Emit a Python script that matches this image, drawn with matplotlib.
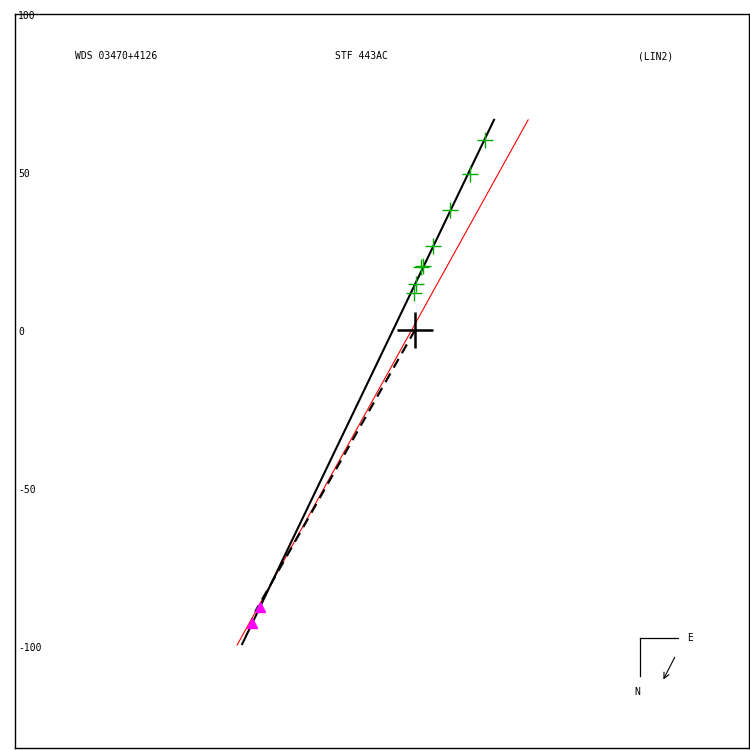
import numpy as np
import matplotlib
matplotlib.use("Agg")
from matplotlib import pyplot as plt
from matplotlib.transforms import offset_copy

# observed positions (green crosses)
obs_x = [22.2, 17.4, 11.1, 5.7, 2.5, 1.9, 0.3, -0.3]
obs_y = [60.1, 49.4, 38.0, 26.6, 20.3, 19.9, 14.6, 11.7]

# early measures (magenta triangles)
old_x = [-49.1, -51.6]
old_y = [-87.7, -92.7]

# fitted linear motion (black) and reference line (red)
fit_x = [-54.7, 25.0]
fit_y = [-99.4, 66.5]
ref_x = [-56.3, 35.8]
ref_y = [-99.7, 66.5]

# dashed line from primary to old positions
dash_x = [0.0, -50.6]
dash_y = [0.0, -89.2]

yticks = [100, 50, 0, -50, -100]

fig = plt.figure(figsize=(7.5, 7.5), dpi=100)
ax = fig.add_axes([15/750, 2/750, 734/750, 734/750])
ax.set_xlim(-126.6, 105.7)
ax.set_ylim(-132.3, 100)
ax.set_xticks([]); ax.set_yticks([])
for s in ax.spines.values():
    s.set_linewidth(1.0)

mono = "DejaVu Sans Mono"

ax.plot(ref_x, ref_y, color="red", lw=0.8)
ax.plot(fit_x, fit_y, color="black", lw=1.5)
ax.plot(dash_x, dash_y, color="black", lw=1.6, dashes=(4.5, 3))
ax.plot(obs_x, obs_y, "+", color="#00aa00", ms=11, mew=1.0)
ax.plot(old_x, old_y, "^", color="#ff00ff", ms=7, mec="#ff00ff")
ax.plot([0], [0], "+", color="black", ms=26, mew=1.8)

lab_tr = offset_copy(ax.get_yaxis_transform(), fig=fig, x=0, y=-2, units="dots")
for v in yticks:
    ax.text(0.004, v, str(v), transform=lab_tr,
            ha="left", va="center", fontsize=7, family=mono, clip_on=False)

ax.text(-107.6, 86.6, "WDS 03470+4126", fontsize=7, family=mono, ha="left", va="center")
ax.text(-16.8, 86.6, "STF 443AC", fontsize=7, family=mono, ha="center", va="center")
ax.text(70.6, 86.6, "(LIN2)", fontsize=7, family=mono, ha="left", va="center")

# compass
ax.plot([71.2, 71.2], [-109.5, -97.5], color="black", lw=0.9)
ax.plot([71.2, 83.2], [-97.5, -97.5], color="black", lw=0.9)
ax.text(86.0, -97.5, "E", fontsize=7, family=mono, ha="left", va="center")
ax.text(70.3, -114.6, "N", fontsize=7, family=mono, ha="center", va="center")
ax.annotate("", xy=(78.2, -111.4), xytext=(82.6, -102.8),
            arrowprops=dict(arrowstyle="->", color="black", lw=0.8))

fig.savefig("out.png", dpi=100)
